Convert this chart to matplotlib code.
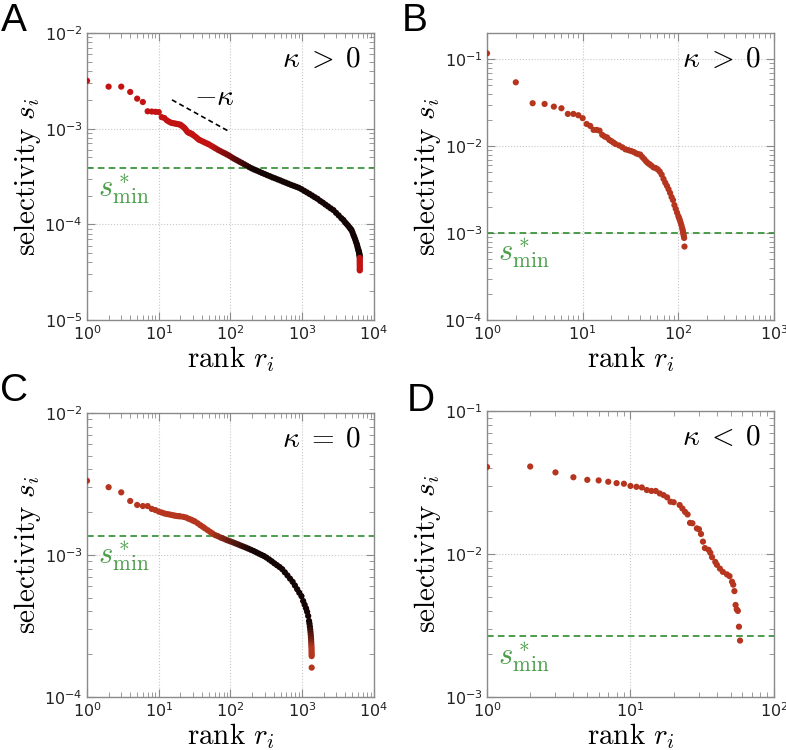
import numpy as np
import matplotlib
matplotlib.use("Agg")
import matplotlib.pyplot as plt
from matplotlib.ticker import LogLocator, NullFormatter
from matplotlib.colors import to_rgb

plt.rcParams['font.family'] = ['DejaVu Sans']

# ---- data ----
# panel A  (kappa > 0, large set)
rank_a = [1, 2, 3, 4, 5, 6, 7, 8, 9, 10, 11, 12, 13, 14, 15, 16, 17, 18, 19, 20,
          21, 22, 23, 24, 25, 26, 27, 28, 29, 30,
          32, 34, 36, 38, 41, 44, 47, 50, 54, 58, 62, 67, 72, 78, 84, 90, 97, 105,
          113, 122, 132, 143, 155, 168, 182, 197,
          214, 232, 252, 274, 298, 324, 352, 383, 417, 454, 494, 538, 586, 638, 695,
          757, 824, 897, 977,
          1064, 1159, 1262, 1374, 1496, 1629, 1774, 1932, 2104, 2291, 2495, 2717,
          2959, 3222, 3509, 3750,
          3950, 4150, 4350, 4550, 4700, 4850, 5000, 5150, 5300, 5450, 5600, 5730,
          5830, 5930, 6020, 6100, 6170, 6230, 6270, 6300,
          6331, 6332, 6333, 6334, 6335, 6336, 6337, 6338, 6339, 6340]
sel_a = [3.17e-3, 2.75e-3, 2.75e-3, 2.42e-3, 2.06e-3, 1.90e-3, 1.52e-3, 1.51e-3, 1.50e-3, 1.49e-3,
         1.32e-3, 1.29e-3, 1.22e-3, 1.18e-3, 1.15e-3, 1.14e-3, 1.13e-3, 1.12e-3, 1.11e-3, 1.10e-3,
         1.07e-3, 1.04e-3, 1.01e-3, 9.7e-4, 9.3e-4, 9.1e-4, 9.0e-4, 8.9e-4, 8.8e-4, 8.6e-4,
         8.3e-4, 8.0e-4, 7.7e-4, 7.55e-4, 7.35e-4, 7.16e-4, 7.0e-4, 6.85e-4, 6.62e-4, 6.41e-4,
         6.22e-4, 6.01e-4, 5.84e-4, 5.66e-4, 5.51e-4, 5.36e-4, 5.19e-4, 5.0e-4,
         4.84e-4, 4.69e-4, 4.54e-4, 4.40e-4, 4.25e-4, 4.11e-4, 3.97e-4, 3.85e-4,
         3.74e-4, 3.65e-4, 3.55e-4, 3.45e-4, 3.36e-4, 3.27e-4, 3.19e-4, 3.10e-4, 3.03e-4,
         2.95e-4, 2.88e-4, 2.80e-4, 2.73e-4, 2.66e-4, 2.59e-4, 2.53e-4, 2.47e-4, 2.41e-4, 2.33e-4,
         2.24e-4, 2.16e-4, 2.08e-4, 2.00e-4, 1.92e-4, 1.85e-4, 1.76e-4, 1.69e-4, 1.61e-4,
         1.54e-4, 1.47e-4, 1.41e-4, 1.32e-4, 1.24e-4, 1.16e-4, 1.11e-4,
         1.05e-4, 1.01e-4, 9.7e-5, 9.3e-5, 9.0e-5, 8.75e-5, 8.3e-5, 7.8e-5, 7.4e-5, 7.0e-5,
         6.6e-5, 6.3e-5, 6.0e-5, 5.7e-5, 5.5e-5, 5.3e-5, 5.15e-5, 5.0e-5, 4.85e-5, 4.7e-5,
         4.6e-5, 4.45e-5, 4.3e-5, 4.15e-5, 4.0e-5, 3.85e-5, 3.7e-5, 3.55e-5, 3.4e-5, 3.3e-5]

# panel B  (kappa > 0, small set)
rank_b = [1, 2, 3, 4, 5, 6, 7, 8, 9, 10, 11, 12, 13, 14, 15, 16, 17, 18, 19, 20, 21, 22,
          24, 26, 28, 30, 32, 34, 36, 38, 40, 42, 44, 46, 48, 50, 52, 55, 58, 61, 64, 67,
          70, 73, 76, 79, 82, 85, 88, 91, 94, 97, 100, 102, 104, 106, 108, 110, 111, 112,
          113, 114, 115, 116]
sel_b = [0.117, 0.0543, 0.0312, 0.0306, 0.0285, 0.0273, 0.0235, 0.0235, 0.0227, 0.0210,
         0.0180, 0.0171, 0.0154, 0.0154, 0.0151, 0.0135, 0.0129, 0.0126, 0.0118, 0.0114,
         0.0110, 0.0106, 0.0102, 0.0097, 0.0092, 0.0090, 0.0088, 0.0086, 0.0083, 0.0081,
         0.0080, 0.0075, 0.0071, 0.0067, 0.0064, 0.0062, 0.0060, 0.0057, 0.0056, 0.0054,
         0.0051, 0.0047, 0.0042, 0.0038, 0.0035, 0.0032, 0.0029, 0.0026, 0.0024, 0.0021,
         0.0019, 0.00172, 0.00157, 0.00148, 0.00140, 0.00131, 0.00122, 0.00113, 0.00108,
         0.00103, 0.00098, 0.00093, 0.00088, 0.00070]

# panel C  (kappa = 0)
rank_c = [1, 2, 3, 4, 5, 6, 7, 8, 9, 10,
          11, 12, 13, 14, 15, 16, 17, 18, 19, 20, 22, 24, 26, 28, 30, 32, 35, 38, 41, 44,
          48, 52, 56, 61, 66, 72, 78, 85, 92,
          100, 109, 118, 128, 139, 151, 164, 178, 193, 210, 228, 248, 270, 293, 318, 346,
          376, 409, 445, 484, 526, 572, 622, 676, 735, 790, 850, 910, 975, 1030,
          1080, 1130, 1170, 1210, 1245,
          1262, 1278, 1292, 1304, 1314, 1322, 1329, 1335, 1340, 1344, 1347, 1349, 1351,
          1352, 1353, 1354]
sel_c = [3.33e-3, 3.0e-3, 2.76e-3, 2.40e-3, 2.25e-3, 2.21e-3, 2.21e-3, 2.11e-3, 2.07e-3, 2.02e-3,
         1.99e-3, 1.96e-3, 1.94e-3, 1.93e-3, 1.915e-3, 1.90e-3, 1.89e-3, 1.88e-3, 1.875e-3, 1.87e-3,
         1.855e-3, 1.835e-3, 1.80e-3, 1.775e-3, 1.745e-3, 1.72e-3, 1.67e-3, 1.62e-3, 1.58e-3, 1.54e-3,
         1.495e-3, 1.455e-3, 1.42e-3, 1.38e-3, 1.36e-3, 1.33e-3, 1.31e-3, 1.285e-3, 1.265e-3,
         1.245e-3, 1.225e-3, 1.205e-3, 1.186e-3, 1.165e-3, 1.146e-3, 1.127e-3, 1.107e-3, 1.087e-3,
         1.067e-3, 1.045e-3, 1.023e-3, 1.002e-3, 9.82e-4, 9.58e-4, 9.29e-4, 9.02e-4, 8.73e-4,
         8.47e-4, 8.22e-4, 7.94e-4, 7.55e-4, 7.18e-4, 6.81e-4, 6.47e-4, 6.10e-4, 5.74e-4,
         5.42e-4, 5.13e-4, 4.74e-4, 4.46e-4, 4.21e-4, 3.98e-4, 3.72e-4, 3.43e-4,
         3.28e-4, 3.13e-4, 2.99e-4, 2.86e-4, 2.74e-4, 2.63e-4, 2.53e-4, 2.44e-4, 2.35e-4,
         2.27e-4, 2.20e-4, 2.13e-4, 2.06e-4, 2.00e-4, 1.94e-4, 1.61e-4]

# panel D  (kappa < 0)
rank_d = [1, 2, 3, 4, 5, 6, 7, 8, 9, 10, 11, 12, 13, 14, 15, 16, 17, 18, 19, 20, 22, 23,
          24, 25, 26, 27, 29, 30, 31, 32, 33, 35, 36, 37, 39, 40, 42, 44, 47, 49, 51, 52,
          53, 54, 55, 56, 57, 58]
sel_d = [0.0406, 0.0409, 0.0372, 0.0344, 0.0330, 0.0327, 0.0320, 0.0313, 0.0310, 0.0299,
         0.0295, 0.0292, 0.0280, 0.0276, 0.0276, 0.0265, 0.0258, 0.0249, 0.0232, 0.0230,
         0.0220, 0.0208, 0.0197, 0.0189, 0.0165, 0.0164, 0.0151, 0.0149, 0.0138, 0.0122,
         0.0110, 0.0107, 0.0102, 0.0095, 0.0088, 0.0084, 0.0079, 0.0075, 0.0072, 0.0070,
         0.0064, 0.0061, 0.0055, 0.0044, 0.0041, 0.0040, 0.0031, 0.00248]

# threshold s*_min per panel
smin = {'A': 3.85e-4, 'B': 1.0e-3, 'C': 1.37e-3, 'D': 2.65e-3}
kappa_txt = {'A': r'$\kappa\;>\;0$', 'B': r'$\kappa\;>\;0$',
             'C': r'$\kappa\;=\;0$', 'D': r'$\kappa\;<\;0$'}
# slope guide in panel A
guide_r = [15.3, 92.0]
guide_s = [2.0e-3, 9.5e-4]

panels = {
    'A': dict(r=rank_a, s=sel_a, xlim=(1, 1e4), ylim=(1e-5, 1e-2), color='#c21212',
              pos=[0.1107, 0.5733, 0.3651, 0.3827]),
    'B': dict(r=rank_b, s=sel_b, xlim=(1, 1e3), ylim=(1e-4, 10 ** -0.698), color='#b5351e',
              pos=[0.6196, 0.5733, 0.3651, 0.3827]),
    'C': dict(r=rank_c, s=sel_c, xlim=(1, 1e4), ylim=(1e-4, 1e-2), color='#b5351e',
              pos=[0.1107, 0.0707, 0.3651, 0.3787]),
    'D': dict(r=rank_d, s=sel_d, xlim=(1, 1e2), ylim=(1e-3, 1e-1), color='#b5351e',
              pos=[0.6196, 0.0707, 0.3651, 0.3813]),
}
letter_pos = {'A': (0.0178, 0.972), 'B': (0.528, 0.972), 'C': (0.0184, 0.4787), 'D': (0.535, 0.4647)}


def density_colors(ax, r, s, base, lo=1.5, hi=6.0):
    # points pile up where many ranks fall on a few pixels -> looks black
    r = np.asarray(r, float)
    pts = ax.transData.transform(np.column_stack([r, s]))
    gap = np.hypot(*np.diff(pts, axis=0).T)
    dr = np.diff(r)
    num = np.zeros(len(r))
    den = np.zeros(len(r))
    num[:-1] += dr
    den[:-1] += gap
    num[1:] += dr
    den[1:] += gap
    dens = num / np.maximum(den, 1e-6)
    t = np.clip((np.log10(dens) - np.log10(lo)) / (np.log10(hi) - np.log10(lo)), 0, 1)
    c0 = np.array(to_rgb(base))
    c1 = np.array(to_rgb('#140404'))
    return c0[None, :] * (1 - t[:, None]) + c1[None, :] * t[:, None]


fig = plt.figure(figsize=(7.86, 7.5), dpi=100)

for key, p in panels.items():
    ax = fig.add_axes(p['pos'])
    ax.set_xscale('log')
    ax.set_yscale('log')
    ax.set_xlim(*p['xlim'])
    ax.set_ylim(*p['ylim'])

    for axis in (ax.xaxis, ax.yaxis):
        axis.set_major_locator(LogLocator(base=10, numticks=20))
        axis.set_minor_locator(LogLocator(base=10, subs=np.arange(2, 10), numticks=20))
        axis.set_minor_formatter(NullFormatter())

    ax.grid(True, which='major', color='#c8c8c8', linestyle=':', linewidth=0.8)
    ax.set_axisbelow(True)
    ax.tick_params(which='both', direction='in', top=True, right=True,
                   color='#8a8a8a', labelcolor='#222222', labelsize=11.5)
    ax.tick_params(which='major', length=6, pad=3)
    ax.tick_params(which='minor', length=3.5)
    for sp in ax.spines.values():
        sp.set_color('#8a8a8a')
        sp.set_linewidth(1.0)

    ax.axhline(smin[key], color='#2e8b2e', linestyle='--', linewidth=1.2, dashes=(4, 2.5), zorder=1)

    cols = density_colors(ax, p['r'], p['s'], p['color'])
    ax.scatter(p['r'], p['s'], s=20, c=cols, linewidths=0, zorder=3)

    ax.text(0.955, 0.91, kappa_txt[key], transform=ax.transAxes, ha='right', va='center',
            fontsize=21, math_fontfamily='cm')
    ax.annotate(r'$s^*_{\mathrm{min}}$', xy=(0.04, smin[key]), xycoords=('axes fraction', 'data'),
                xytext=(0, -15), textcoords='offset points', ha='left', va='center',
                fontsize=22, color='#4a9e4a', math_fontfamily='cm')

    ax.set_xlabel(r'$\mathrm{rank}\ r_i$', fontsize=21, math_fontfamily='cm', labelpad=1)
    ax.set_ylabel(r'$\mathrm{selectivity}\ s_i$', fontsize=21, math_fontfamily='cm', labelpad=1)

    if key == 'A':
        ax.plot(guide_r, guide_s, color='black', linestyle='--', linewidth=1.2, dashes=(3, 2))
        ax.text(59, 2.14e-3, r'$-\kappa$', ha='center', va='center', fontsize=21,
                math_fontfamily='cm')

    lx, ly = letter_pos[key]
    fig.text(lx, ly, key, ha='center', va='center', fontsize=28, family='Liberation Sans')

fig.savefig('out.png', dpi=100)
